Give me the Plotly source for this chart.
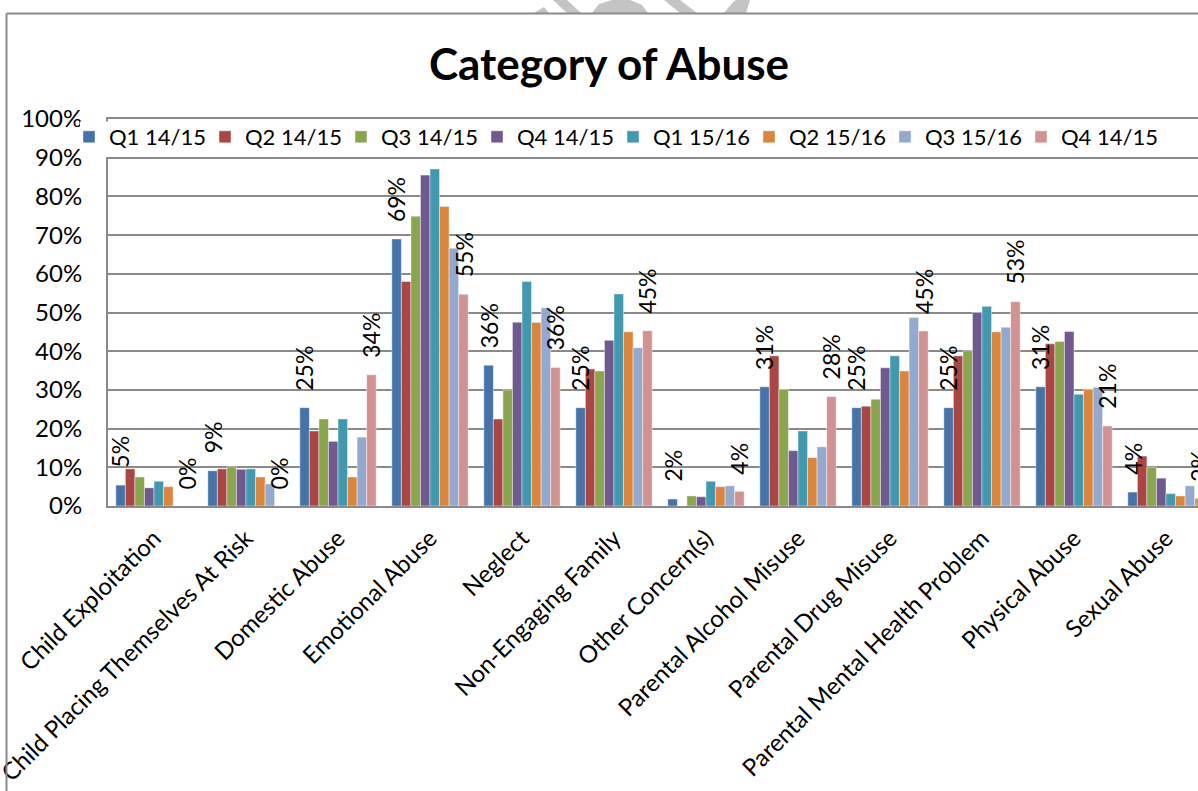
import plotly.graph_objects as go

categories = ["Child Exploitation", "Child Placing Themselves At Risk", "Domestic Abuse",
              "Emotional Abuse", "Neglect", "Non-Engaging Family", "Other Concern(s)",
              "Parental Alcohol Misuse", "Parental Drug Misuse",
              "Parental Mental Health Problem", "Physical Abuse", "Sexual Abuse"]

series_names = ["Q1 14/15", "Q2 14/15", "Q3 14/15", "Q4 14/15",
                "Q1 15/16", "Q2 15/16", "Q3 15/16", "Q4 14/15"]

q1_1415 = [5.4, 9.1, 25.4, 69.0, 36.4, 25.4, 1.8, 30.8, 25.4, 25.4, 30.8, 3.6]
q2_1415 = [9.6, 9.6, 19.4, 58.0, 22.5, 35.4, 0.0, 38.8, 25.8, 38.8, 41.9, 12.9]
q3_1415 = [7.5, 10.1, 22.5, 74.9, 30.0, 34.9, 2.6, 30.1, 27.6, 40.1, 42.5, 10.0]
q4_1415 = [4.7, 9.5, 16.7, 85.5, 47.5, 42.8, 2.4, 14.3, 35.7, 50.0, 45.1, 7.2]
q1_1516 = [6.4, 9.6, 22.5, 87.1, 58.0, 54.8, 6.4, 19.4, 38.8, 51.6, 28.9, 3.2]
q2_1516 = [5.0, 7.5, 7.5, 77.4, 47.4, 45.0, 5.0, 12.5, 34.9, 45.0, 30.1, 2.6]
q3_1516 = [0.0, 5.7, 17.8, 66.6, 51.2, 40.9, 5.2, 15.3, 48.7, 46.2, 30.7, 5.2]
q4_last = [0.0, 0.0, 33.9, 54.7, 35.8, 45.3, 3.8, 28.3, 45.2, 52.8, 20.7, 2.0]

all_series = [q1_1415, q2_1415, q3_1415, q4_1415, q1_1516, q2_1516, q3_1516, q4_last]
colors = ["#4572A7", "#AA4643", "#89A54E", "#71588F",
          "#4198AF", "#DB843D", "#93A9CF", "#D19392"]
labelled = [True, False, False, False, False, False, False, True]

FONT = "Lato, Carlito, Calibri, 'Open Sans', sans-serif"
W, H = 1198, 791
L, R, T, B = 108, 0, 119, 285
CAT_PX = 92.0
BARGAP = 0.17
LEGEND_X0, LEGEND_STEP, LEGEND_TOP = 69, 136, 116
plot_w = W - L - R
plot_h = H - T - B
n_series = len(all_series)
bar_px = CAT_PX * (1 - BARGAP) / n_series


def px_x(x):
    return (x - L) / plot_w


def px_y(y):
    return (H - B - y) / plot_h


def legend_id(i):
    return "legend" if i == 0 else f"legend{i + 1}"


fig = go.Figure()
annotations = []
legends = {}
for i, (name, vals, col, lab) in enumerate(zip(series_names, all_series, colors, labelled)):
    fig.add_trace(go.Bar(
        x=categories, y=[v / 100 for v in vals], name=name,
        marker=dict(color=col, line=dict(color="rgba(255,255,255,0.55)", width=0.8)),
        cliponaxis=False,
        legend=legend_id(i),
    ))
    legends[legend_id(i)] = dict(
        orientation="h", yanchor="top", xanchor="left",
        x=px_x(LEGEND_X0 + LEGEND_STEP * i), y=px_y(LEGEND_TOP),
        bgcolor="rgba(0,0,0,0)",
        font=dict(family=FONT, size=22, color="black"),
        itemclick=False, itemdoubleclick=False,
    )
    if lab:
        for c, v in zip(categories, vals):
            annotations.append(dict(
                x=c, y=v / 100, xref="x", yref="y",
                text=f"{round(v):d}%", showarrow=False, textangle=-90,
                xanchor="center", yanchor="bottom",
                xshift=(i - (n_series - 1) / 2) * bar_px, yshift=15,
                font=dict(family=FONT, size=23, color="black"),
            ))

shapes = []
# chart border (left and top visible)
shapes.append(dict(type="line", xref="paper", yref="paper",
                   x0=px_x(6.5), x1=px_x(6.5), y0=px_y(13.5), y1=px_y(800),
                   line=dict(color="#8a8a8a", width=2)))
shapes.append(dict(type="line", xref="paper", yref="paper",
                   x0=px_x(6.5), x1=px_x(1210), y0=px_y(13.5), y1=px_y(13.5),
                   line=dict(color="#8a8a8a", width=2)))
# white backing of the legend (legends themselves are transparent)
shapes.append(dict(type="rect", xref="paper", yref="paper",
                   x0=px_x(80), x1=px_x(1152), y0=px_y(157), y1=px_y(121.5),
                   fillcolor="white", line=dict(width=0), layer="above"))
# watermark fragments above the border
wm = [
    [(534, 13), (544, 7), (549, 13)],
    [(553, 0), (567, 0), (581, 13), (567, 13)],
    [(592, 13), (599, 4), (612, 0), (630, 0), (642, 5), (648, 13)],
    [(664, 0), (680, 0), (697, 13), (680, 13)],
    [(724, 13), (733, 2), (736, 0), (750, 0), (746, 13)],
]
for poly in wm:
    path = "M " + " L ".join(f"{px_x(x):.5f},{px_y(y):.5f}" for x, y in poly) + " Z"
    shapes.append(dict(type="path", xref="paper", yref="paper", path=path,
                       fillcolor="#c4c4c4", line=dict(width=0), layer="below"))

fig.update_layout(
    width=W, height=H,
    margin=dict(l=L, r=R, t=T, b=B, autoexpand=False),
    paper_bgcolor="white", plot_bgcolor="white",
    barmode="group", bargap=BARGAP, bargroupgap=0,
    font=dict(family=FONT, size=23, color="black"),
    title=dict(text="<b>Category of Abuse</b>", x=609 / W, xanchor="center",
               y=1 - 65 / H, yanchor="middle",
               font=dict(family=FONT, size=44, color="black")),
    showlegend=True,
    xaxis=dict(range=[-0.5, -0.5 + plot_w / CAT_PX], tickangle=-45,
               showline=True, mirror=True, linecolor="#8a8a8a", linewidth=1.5,
               showgrid=False, ticks="", automargin=False, ticklabelstandoff=7,
               tickfont=dict(family=FONT, size=24, color="black")),
    yaxis=dict(range=[0, 1], dtick=0.1, tickformat=".0%",
               showgrid=True, gridcolor="#8a8a8a", gridwidth=1.5,
               showline=True, linecolor="#8a8a8a", linewidth=2,
               zeroline=False, ticks="", ticklabelstandoff=19, automargin=False,
               tickfont=dict(family=FONT, size=24, color="black")),
    shapes=shapes,
    annotations=annotations,
    **legends,
)

fig.write_html("out.html", config={"displayModeBar": False},
               post_script="document.body.style.margin='0';document.body.style.overflow='hidden';")
